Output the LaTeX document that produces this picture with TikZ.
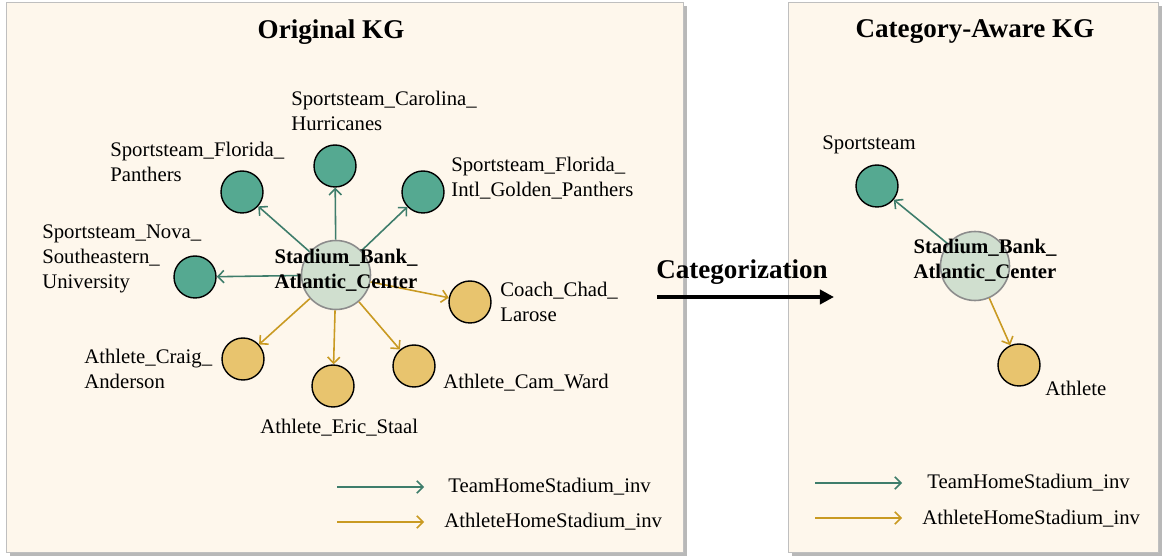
\documentclass[tikz,border=0pt]{standalone}
\usepackage{fontspec}
\setmainfont{Liberation Serif}
\usetikzlibrary{arrows.meta}
\definecolor{panelbg}{HTML}{FEF7EC}
\definecolor{teamfill}{HTML}{55A991}
\definecolor{teamline}{HTML}{3E7D6B}
\definecolor{athfill}{HTML}{E8C46E}
\definecolor{athline}{HTML}{C99A22}
\definecolor{hubfill}{HTML}{D0DFCF}

\begin{document}
\begin{tikzpicture}[x=0.02cm,y=-0.02cm,
  panel/.style={fill=panelbg,draw=black!25,line width=0.5pt},
  shade/.style={fill=black!28},
  ent/.style={circle,draw=black,line width=0.8pt,minimum size=0.84cm,inner sep=0pt},
  team/.style={ent,fill=teamfill},
  ath/.style={ent,fill=athfill},
  hub/.style={circle,draw=black!45,fill=hubfill,line width=0.9pt,minimum size=1.38cm,inner sep=0pt},
  lbl/.style={inner sep=0pt,anchor=west,align=left,font=\fontsize{11.8}{14.2}\selectfont},
  hublbl/.style={inner sep=0pt,align=center,font=\fontsize{11.8}{14.2}\selectfont\bfseries},
  title/.style={inner sep=0pt,font=\fontsize{15.4}{18}\selectfont\bfseries},
  teamedge/.style={teamline,line width=0.9pt,-{Straight Barb[length=3.5pt,width=7pt]}},
  athedge/.style={athline,line width=0.9pt,-{Straight Barb[length=3.5pt,width=7pt]}}]
\useasboundingbox (0,0) rectangle (1164,557);

% panels
\fill[shade] (10,6) rectangle (687,556);
\draw[panel] (6,2) rectangle (683,552);
\fill[shade] (792,6) rectangle (1162,556);
\draw[panel] (788,2) rectangle (1158,552);

\node[title] (tOrig) at (331,32) {Original KG};
\node[title] (tCat) at (975,32) {Category-Aware KG};

% original KG
\node[hub] (hubL) at (336,275) {};
\node[team] (carolina) at (335,166) {};
\node[team] (panthers) at (242,192) {};
\node[team] (golden) at (423,192) {};
\node[team] (nova) at (195,277) {};
\node[ath] (coach) at (470,302) {};
\node[ath] (craig) at (243,359) {};
\node[ath] (staal) at (333,386) {};
\node[ath] (ward) at (414,366) {};

\foreach \n in {carolina,panthers,golden,nova}{
\draw[teamedge] (hubL) -- (\n);
}
\foreach \n in {coach,craig,staal,ward}{
\draw[athedge] (hubL) -- (\n);
}
\node[hublbl] (hubLtxt) at (346,270) {Stadium\_Bank\_\\Atlantic\_Center};

\node[lbl] (lCarolina) at (291,111) {Sportsteam\_Carolina\_\\Hurricanes};
\node[lbl] (lPanthers) at (110,162) {Sportsteam\_Florida\_\\Panthers};
\node[lbl] (lGolden) at (451,178) {Sportsteam\_Florida\_\\Intl\_Golden\_Panthers};
\node[lbl] (lNova) at (42,259) {Sportsteam\_Nova\_\\Southeastern\_\\University};
\node[lbl] (lCoach) at (500,302) {Coach\_Chad\_\\Larose};
\node[lbl] (lCraig) at (84,369) {Athlete\_Craig\_\\Anderson};
\node[lbl] (lWard) at (443,383) {Athlete\_Cam\_Ward};
\node[lbl] (lStaal) at (260,428) {Athlete\_Eric\_Staal};

% legend
\coordinate (lgA) at (337,487);
\coordinate (lgB) at (337,522);
\node[lbl] (lgTeam) at (448,487) {TeamHomeStadium\_inv};
\node[lbl] (lgAth) at (444,522) {AthleteHomeStadium\_inv};
\draw[teamedge] (lgA) -- ++(87,0);
\draw[athedge] (lgB) -- ++(87,0);

% categorization
\node[title] (catlbl) at (742,272) {Categorization};
\coordinate (catA) at (657,297);
\coordinate (catB) at (834,297);
\draw[line width=2.4pt,-{Triangle[length=8pt,width=8pt]}] (catA) -- (catB);

% category-aware KG
\node[hub] (hubR) at (975,266) {};
\node[team] (sport) at (877,186) {};
\node[ath] (athlete) at (1019,365) {};
\draw[teamedge] (hubR) -- (sport);
\draw[athedge] (hubR) -- (athlete);
\node[hublbl] (hubRtxt) at (985,260) {Stadium\_Bank\_\\Atlantic\_Center};
\node[lbl] (lSport) at (822,145) {Sportsteam};
\node[lbl] (lAthlete) at (1045,388) {Athlete};

\coordinate (rgA) at (815,483);
\coordinate (rgB) at (815,518);
\node[lbl] (rgTeam) at (927,483) {TeamHomeStadium\_inv};
\node[lbl] (rgAth) at (922,519) {AthleteHomeStadium\_inv};
\draw[teamedge] (rgA) -- ++(87,0);
\draw[athedge] (rgB) -- ++(87,0);

\end{tikzpicture}
\end{document}
